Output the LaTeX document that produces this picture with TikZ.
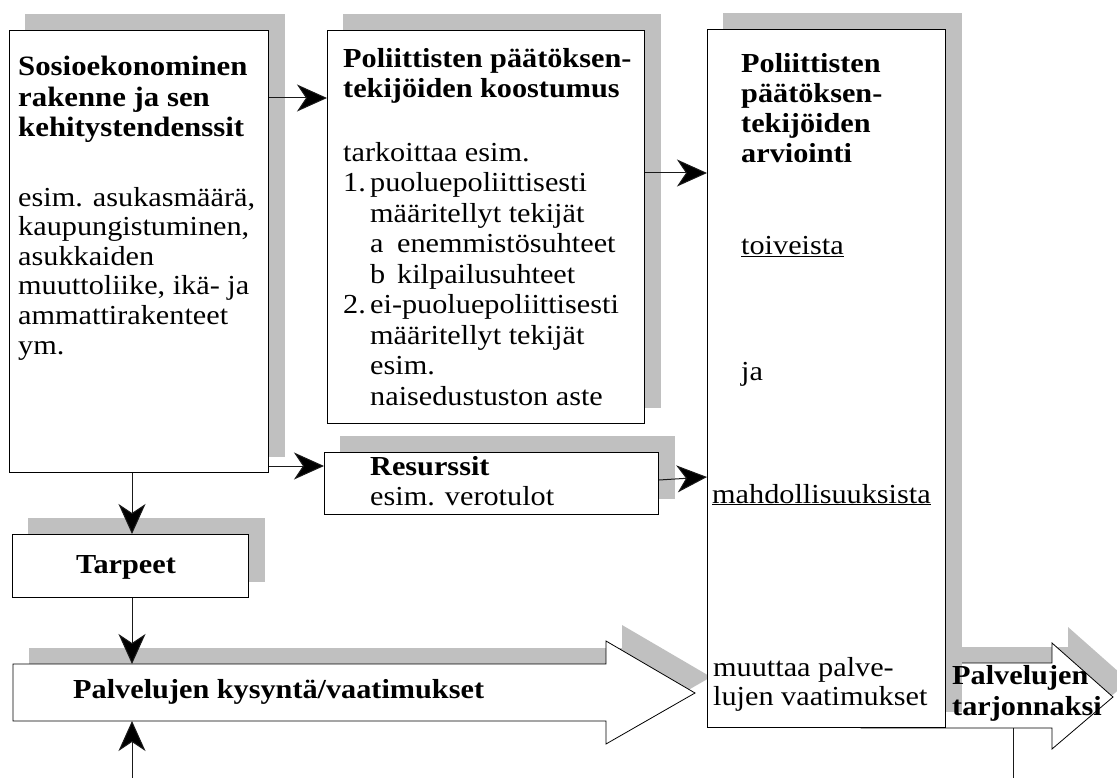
\documentclass[tikz,border=0pt]{standalone}
\usepackage{fontspec}
\setmainfont[FakeStretch=1.1]{Liberation Serif}
\usetikzlibrary{arrows.meta}

\definecolor{shadowgray}{HTML}{C0C0C0}
\definecolor{linegray}{HTML}{1A1A1A}

\pgfdeclarelayer{bottom}
\pgfdeclarelayer{shade}
\pgfsetlayers{bottom,shade,main}

\newcommand\bodysize{\fontsize{27.5}{30.5}\selectfont}
\newcommand\headsize{\fontsize{27.5}{30.3}\selectfont\bfseries}
\newcommand\bigheadsize{\fontsize{28}{30.5}\selectfont\bfseries}

% text nodes are anchored at the baseline of their last line
\tikzset{
  box/.style={draw=black, line width=1pt, fill=white, inner sep=0pt, anchor=north west},
  backdrop/.style={fill=shadowgray, draw=none},
  txt/.style={inner sep=0pt, anchor=base west, align=left, font=\bodysize},
  headtxt/.style={txt, font=\headsize},
  link/.style={draw=linegray, line width=1pt, -{Stealth[length=30pt, width=27pt, inset=9pt, fill=black]}},
  plainlink/.style={draw=linegray, line width=1pt},
  blockarrow/.style={draw=black, line width=0.8pt, fill=white},
}

% grey block offset up and to the right behind a box
\newcommand\castshadow[1]{%
  \fill[backdrop] ([shift={(16,-16)}]#1.north west) rectangle ([shift={(16,-16)}]#1.south east);}

\begin{document}
\begin{tikzpicture}[x=1pt, y=-1pt]
\useasboundingbox (0,0) rectangle (1117,778);

\begin{pgfonlayer}{bottom}
% supply arrow (partly hidden behind the evaluation box)
\fill[backdrop, shift={(16,-16)}] (861,663) -- (1052,663) -- (1052,643) -- (1113,697)
  -- (1052,749) -- (1052,728) -- (861,728) -- cycle;
\draw[blockarrow] (861,663) -- (1052,663) -- (1052,643) -- (1113,697)
  -- (1052,749) -- (1052,728) -- (861,728) -- cycle;
% demand arrow
\fill[backdrop, shift={(16,-16)}] (13,664) -- (606,664) -- (606,641) -- (695,693)
  -- (606,744) -- (606,721) -- (13,721) -- cycle;
\draw[blockarrow] (13,664) -- (606,664) -- (606,641) -- (695,693)
  -- (606,744) -- (606,721) -- (13,721) -- cycle;
\end{pgfonlayer}

\coordinate (supplyBot) at (1013,728);
\coordinate (outflow) at (1013,778);
\coordinate (demandTop) at (132,664);
\coordinate (demandBot) at (132,721);
\coordinate (inflow) at (132,778);

% ---- boxes
\node[box, minimum width=259pt, minimum height=442pt] (soc) at (9,30) {};
\node[box, minimum width=317pt, minimum height=393pt] (pol) at (327,30) {};
\node[box, minimum width=334pt, minimum height=62pt] (res) at (324,452) {};
\node[box, minimum width=236pt, minimum height=63pt] (tar) at (12,534) {};
\node[box, minimum width=238pt, minimum height=698pt] (arv) at (707,29) {};

\begin{pgfonlayer}{shade}
\castshadow{soc}
\castshadow{pol}
\castshadow{res}
\castshadow{tar}
\castshadow{arv}
\end{pgfonlayer}

% ---- texts
\node[txt, font=\bigheadsize] (socT) at (18,137) {Sosioekonominen\\rakenne ja sen\\kehitystendenssit};
\node[txt, font=\fontsize{27.5}{29.6}\selectfont] (socB) at (18,354)
  {esim. asukasmäärä,\\kaupungistuminen,\\asukkaiden\\muuttoliike, ikä- ja\\ammattirakenteet\\ym.};

\node[headtxt] (polT) at (343,98) {Poliittisten päätöksen-\\tekijöiden koostumus};
\node[txt] (polB) at (343,405) {tarkoittaa esim.\\
  \makebox[27pt][l]{1.}puoluepoliittisesti\\
  \hspace*{27pt}määritellyt tekijät\\
  \hspace*{27pt}\makebox[27pt][l]{a}enemmistösuhteet\\
  \hspace*{27pt}\makebox[27pt][l]{b}kilpailusuhteet\\
  \makebox[27pt][l]{2.}ei-puoluepoliittisesti\\
  \hspace*{27pt}määritellyt tekijät\\
  \hspace*{27pt}esim.\\
  \hspace*{27pt}naisedustuston aste};

\node[headtxt] (resT) at (370,475) {Resurssit};
\node[txt] (resB) at (370,505) {esim. verotulot};

\node[headtxt] (tarT) at (76,573) {Tarpeet};

\node[headtxt] (arvT) at (741,163) {Poliittisten\\päätöksen-\\tekijöiden\\arviointi};
\node[txt] (arvW) at (741,255) {\underline{toiveista}};
\node[txt] (arvJ) at (741,380) {ja};
\node[txt] (arvM) at (712,503) {\underline{mahdollisuuksista}};
\node[txt, font=\fontsize{27.5}{29}\selectfont] (arvC) at (713,705) {muuttaa palve-\\lujen vaatimukset};

\node[headtxt] (demandT) at (73,698) {Palvelujen kysyntä/vaatimukset};
\node[headtxt] (supplyT) at (952,715) {Palvelujen\\tarjonnaksi};

% ---- connectors
\path ([yshift=-68pt]soc.north east) coordinate (s1);
\draw[link] (s1) -- (s1 -| pol.west);
\path ([yshift=-143pt]pol.north east) coordinate (p1);
\draw[link] (p1) -- (p1 -| arv.west);
\path ([yshift=7pt]soc.south east) coordinate (s2);
\draw[link] (s2) -- (s2 -| res.west);
\path ([yshift=-28pt]res.north east) coordinate (r1);
\path (r1 -| arv.west) coordinate (r2);
\draw[link] (r1) -- ([yshift=3pt]r2);
\path (soc.south west) ++(123,0) coordinate (s3);
\draw[link] (s3) -- (s3 |- tar.north);
\draw[link] (s3 |- tar.south) -- (demandTop);
\draw[link] (inflow) -- (demandBot);
\draw[plainlink] (supplyBot) -- (outflow);
\end{tikzpicture}
\end{document}
